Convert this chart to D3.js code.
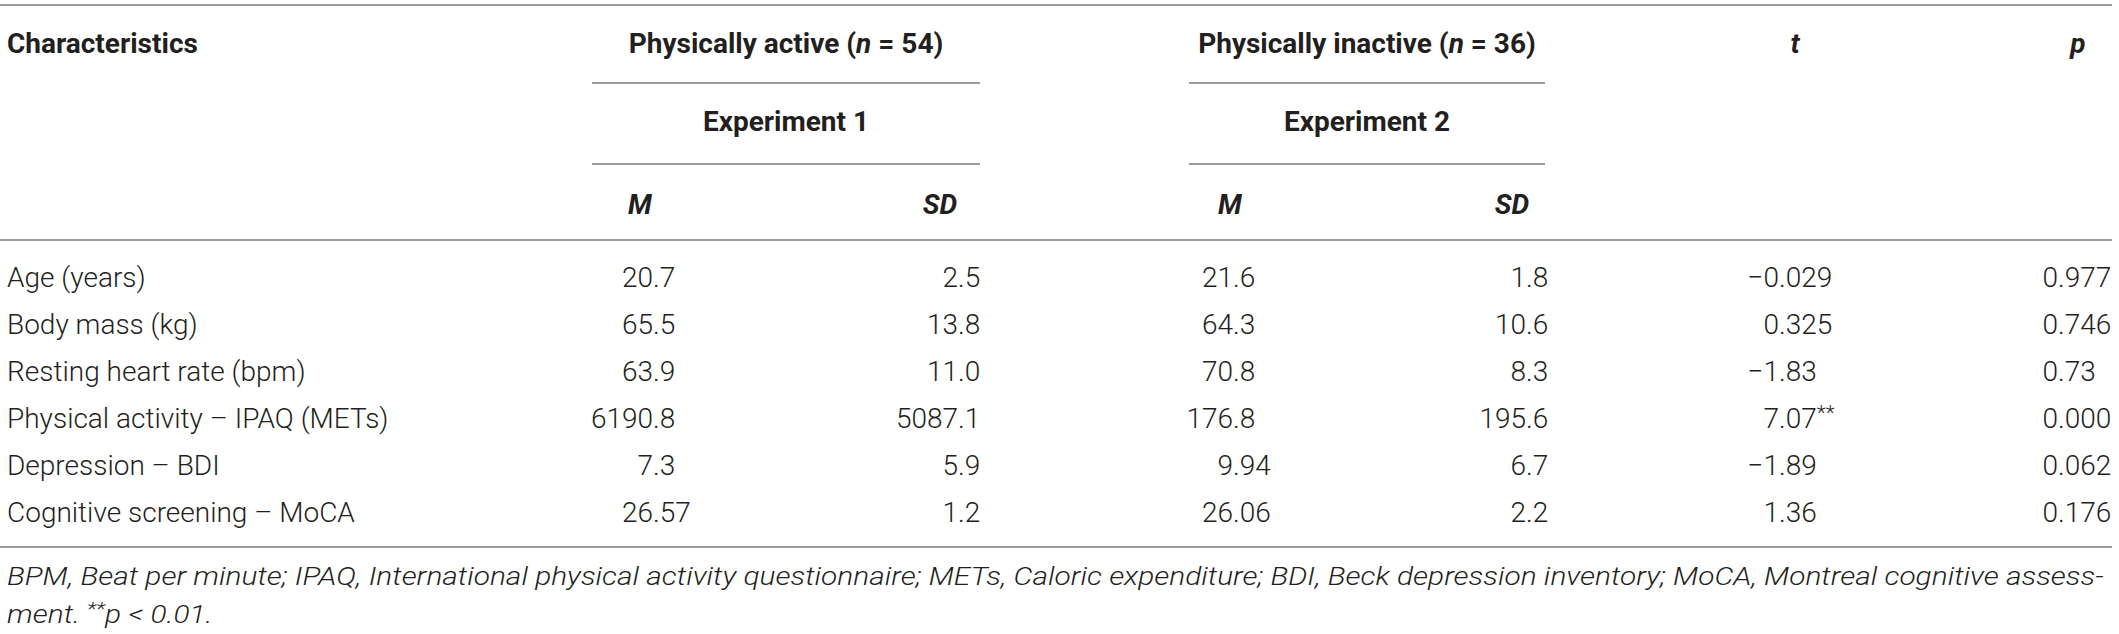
<!DOCTYPE html>
<html>
<head>
<meta charset="utf-8">
<script src="https://cdn.jsdelivr.net/npm/d3@7"></script>
<style>
  body { margin: 0; background: #fff; }
  svg { display: block; }
  text { font-family: Roboto, "Liberation Sans", sans-serif; fill: #231f20; }
  .body { font-size: 28px; font-weight: 300; }
  .head { font-size: 28px; font-weight: 700; }
  .note { font-size: 26px; font-weight: 300; font-style: italic; }
</style>
</head>
<body>
<svg></svg>
<script>
var width = 2119;
var height = 634;

// table content
var characteristics = ["Age (years)", "Body mass (kg)", "Resting heart rate (bpm)",
  "Physical activity \u2013 IPAQ (METs)", "Depression \u2013 BDI", "Cognitive screening \u2013 MoCA"];
var activeM  = ["20.7", "65.5", "63.9", "6190.8", "7.3", "26.57"];
var activeSD = ["2.5", "13.8", "11.0", "5087.1", "5.9", "1.2"];
var inactiveM  = ["21.6", "64.3", "70.8", "176.8", "9.94", "26.06"];
var inactiveSD = ["1.8", "10.6", "8.3", "195.6", "6.7", "2.2"];
var tValues = ["\u22120.029", "0.325", "\u22121.83", "7.07**", "\u22121.89", "1.36"];
var pValues = ["0.977", "0.746", "0.73", "0.000", "0.062", "0.176"];

var groupLabels = [["Physically active (", "n", " = 54)"], ["Physically inactive (", "n", " = 36)"]];
var experimentLabels = ["Experiment 1", "Experiment 2"];
var statLabels = ["M", "SD", "M", "SD"];
var footnote1 = "BPM, Beat per minute; IPAQ, International physical activity questionnaire; METs, Caloric expenditure; BDI, Beck depression inventory; MoCA, Montreal cognitive assess-";

var columns = [activeM, activeSD, inactiveM, inactiveSD, tValues, pValues];

// x of decimal point in each value column
var colX = d3.scaleOrdinal()
  .domain(d3.range(6))
  .range([653, 958, 1233, 1526, 1779, 2058]);
var headX = d3.scaleOrdinal()
  .domain(d3.range(4))
  .range([640, 940, 1230, 1512]);
var groupX = d3.scaleOrdinal().domain([0, 1]).range([[592, 980], [1189, 1545]]);

var y = d3.scalePoint()
  .domain(characteristics)
  .range([287, 522]);

var svg = d3.select("svg")
    .attr("width", width)
    .attr("height", height);

// rules
var ruleColor = "#9c9c9c";
[5, 240, 547].forEach(function(yy) {
  svg.append("line")
      .attr("x1", 0).attr("x2", 2112)
      .attr("y1", yy).attr("y2", yy)
      .attr("stroke", ruleColor).attr("stroke-width", 2);
});
[83, 164].forEach(function(yy) {
  svg.selectAll(null)
    .data([0, 1])
    .enter()
    .append("line")
      .attr("x1", d => groupX(d)[0]).attr("x2", d => groupX(d)[1])
      .attr("y1", yy).attr("y2", yy)
      .attr("stroke", ruleColor).attr("stroke-width", 2);
});

// header row 1
svg.append("text").attr("class", "head").attr("x", 7).attr("y", 53).text("Characteristics");

svg.selectAll(".group")
  .data(groupLabels)
  .enter()
  .append("text")
    .attr("class", "head group")
    .attr("x", (d, i) => (groupX(i)[0] + groupX(i)[1]) / 2)
    .attr("y", 53)
    .attr("text-anchor", "middle")
    .each(function(d) {
      var t = d3.select(this);
      t.append("tspan").text(d[0]);
      t.append("tspan").attr("font-style", "italic").text(d[1]);
      t.append("tspan").text(d[2]);
    });

svg.append("text").attr("class", "head").attr("x", 1795).attr("y", 53)
    .attr("text-anchor", "middle").attr("font-style", "italic").text("t");
svg.append("text").attr("class", "head").attr("x", 2078).attr("y", 53)
    .attr("text-anchor", "middle").attr("font-style", "italic").text("p");

// header row 2
svg.selectAll(".exp")
  .data(experimentLabels)
  .enter()
  .append("text")
    .attr("class", "head exp")
    .attr("x", (d, i) => (groupX(i)[0] + groupX(i)[1]) / 2)
    .attr("y", 131)
    .attr("text-anchor", "middle")
    .text(d => d);

// header row 3
svg.selectAll(".stat")
  .data(statLabels)
  .enter()
  .append("text")
    .attr("class", "head stat")
    .attr("x", (d, i) => headX(i))
    .attr("y", 214)
    .attr("text-anchor", "middle")
    .attr("font-style", "italic")
    .text(d => d);

// row labels
svg.selectAll(".label")
  .data(characteristics)
  .enter()
  .append("text")
    .attr("class", "body label")
    .attr("x", 7)
    .attr("y", d => y(d))
    .text(d => d);

// values, aligned on the decimal point
columns.forEach(function(col, ci) {
  var g = svg.append("g");
  col.forEach(function(v, ri) {
    var dot = v.indexOf(".");
    var stars = v.indexOf("*") >= 0 ? v.slice(v.indexOf("*")) : "";
    var num = stars ? v.slice(0, v.indexOf("*")) : v;
    g.append("text")
        .attr("class", "body")
        .attr("x", colX(ci))
        .attr("y", y(characteristics[ri]))
        .attr("text-anchor", "end")
        .text(num.slice(0, dot));
    var r = g.append("text")
        .attr("class", "body")
        .attr("x", colX(ci))
        .attr("y", y(characteristics[ri]))
        .text(num.slice(dot));
    if (stars) {
      r.append("tspan").attr("font-size", 21).attr("dy", -8).text(stars);
    }
  });
});

// footnote, stretched so the first line runs the full width like the original
var note = svg.append("g");
var n1 = note.append("text")
    .attr("class", "note")
    .attr("x", 0).attr("y", 585)
    .text(footnote1);
var n2 = note.append("text").attr("class", "note").attr("x", 0).attr("y", 623);
n2.append("tspan").text("ment. ");
n2.append("tspan").attr("font-size", 19).attr("dy", -8).text("**");
n2.append("tspan").attr("dy", 8).text("p");
n2.append("tspan").text(" < 0.01.");
var stretch = 2098 / n1.node().getComputedTextLength();
note.attr("transform", "translate(7,0) scale(" + stretch + ",1)");
</script>
</body>
</html>
